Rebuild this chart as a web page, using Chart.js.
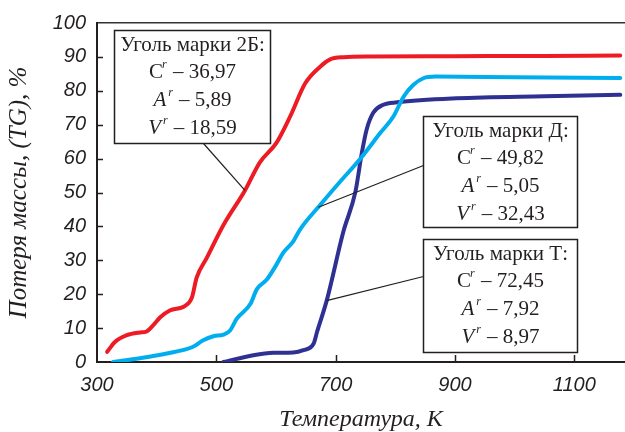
<!DOCTYPE html>
<html>
<head>
<meta charset="utf-8">
<script src="https://cdn.jsdelivr.net/npm/chart.js@4/dist/chart.umd.min.js"></script>
<style>
  body { margin: 0; background: #fff; }
  canvas { display: block; }
</style>
</head>
<body>
<canvas id="tg" width="625" height="432"></canvas>
<script>
const xTicks = [300, 500, 700, 900, 1100];
const yTicks = [0, 10, 20, 30, 40, 50, 60, 70, 80, 90, 100];

// уголь марки 2Б
const temp2B = [317, 330, 350, 372, 383, 394, 406, 422, 448, 459, 467, 484, 512, 548, 573, 601, 624, 649, 674, 690, 713, 760, 900, 1050, 1177];
const loss2B = [3.0, 5.9, 7.9, 8.7, 9.0, 10.8, 13.2, 15.2, 16.6, 19.0, 24.9, 30.7, 40.4, 50.6, 58.9, 64.7, 72.5, 82.2, 87.1, 89.2, 89.9, 90.1, 90.2, 90.3, 90.4];

// уголь марки Д
const tempD = [327, 372, 417, 461, 478, 495, 512, 523, 534, 557, 568, 585, 601, 612, 629, 640, 674, 707, 741, 775, 797, 814, 830, 847, 867, 1000, 1177];
const lossD = [0, 1.1, 2.5, 4.5, 6.4, 7.6, 8.1, 9.3, 12.7, 17.1, 21.5, 24.4, 28.8, 32.2, 35.6, 39.0, 46.3, 53.1, 59.9, 67.6, 72.5, 78.3, 81.7, 83.7, 84.2, 84.0, 83.8];

// уголь марки Т
const tempT = [512, 562, 596, 629, 646, 663, 669, 685, 713, 733, 744, 752, 763, 780, 803, 903, 1050, 1177];
const lossT = [0, 2.0, 2.7, 2.8, 3.5, 5.4, 9.0, 18.1, 38.5, 50.1, 61.8, 68.6, 73.5, 75.9, 76.6, 77.8, 78.4, 78.8];

// технический анализ: Cr, Ar, Vr
const coalNames = ['2Б', 'Д', 'Т'];
const coalC = [36.97, 49.82, 72.45];
const coalA = [5.89, 5.05, 7.92];
const coalV = [18.59, 32.43, 8.97];

const colors = ['#ed1c24', '#00aeef', '#2e3192'];
const ink = '#231f20';
const serif = '"Liberation Serif", "Times New Roman", serif';
const sans = '"Liberation Sans", Arial, sans-serif';

const toPoints = (xs, ys) => xs.map((x, i) => ({ x: x, y: ys[i] }));

// where each callout box sits (box corner in axis units, size in px)
const callouts = [
  { series: 0, at: 548, left: 328.5, top: 98, w: 156, h: 113, from: [89, 113] },
  { series: 1, at: 671, left: 846.7, top: 72.6, w: 154, h: 111, from: [0, 49] },
  { series: 2, at: 685, left: 846.7, top: 36.2, w: 154, h: 113, from: [0, 37] }
];

const interp = (xs, ys, x) => {
  for (let i = 1; i < xs.length; i++) {
    if (x <= xs[i]) {
      const t = (x - xs[i - 1]) / (xs[i] - xs[i - 1]);
      return ys[i - 1] + t * (ys[i] - ys[i - 1]);
    }
  }
  return ys[ys.length - 1];
};

const fmt = v => v.toFixed(2).replace('.', ',');

// inward tick marks on the left and bottom axes
const innerTicks = {
  id: 'innerTicks',
  afterDatasetsDraw(chart) {
    const { ctx, chartArea: a, scales: { x, y } } = chart;
    ctx.save();
    ctx.strokeStyle = ink;
    ctx.lineWidth = 1.5;
    ctx.beginPath();
    xTicks.slice(1).forEach(v => {
      const px = Math.round(x.getPixelForValue(v)) + 0.5;
      ctx.moveTo(px, a.bottom);
      ctx.lineTo(px, a.bottom - 7);
    });
    yTicks.slice(1, -1).forEach(v => {
      const py = Math.round(y.getPixelForValue(v)) + 0.5;
      ctx.moveTo(a.left, py);
      ctx.lineTo(a.left + 6, py);
    });
    ctx.stroke();
    ctx.restore();
  }
};

const series = [[temp2B, loss2B], [tempD, lossD], [tempT, lossT]];

// text line "X^r – value"; only the letter and index may be italic
function drawIndexLine(ctx, cx, base, letter, italic, value) {
  const main = (italic ? 'italic ' : '') + '21px ' + serif;
  const plain = '21px ' + serif;
  const sup = 'italic 12px ' + serif;
  const rest = ' – ' + fmt(value);
  const gap = italic ? 3 : 0;
  ctx.font = main;
  const wl = ctx.measureText(letter).width;
  ctx.font = plain;
  const wr = ctx.measureText(rest).width;
  ctx.font = sup;
  const ws = ctx.measureText('r').width + gap;
  const total = wl + ws + wr;
  let xx = cx - total / 2;
  ctx.font = main;
  ctx.fillText(letter, xx, base);
  xx += wl;
  ctx.font = sup;
  ctx.fillText('r', xx + gap - 1, base - 10);
  xx += ws;
  ctx.font = plain;
  ctx.fillText(rest, xx, base);
}

const calloutBoxes = {
  id: 'calloutBoxes',
  afterDatasetsDraw(chart) {
    const { ctx, scales: { x, y } } = chart;
    ctx.save();
    callouts.forEach(c => {
      const [xs, ys] = series[c.series];
      const bx = Math.round(x.getPixelForValue(c.left)) + 0.5;
      const by = Math.round(y.getPixelForValue(c.top)) + 0.5;
      const tx = x.getPixelForValue(c.at);
      const ty = y.getPixelForValue(interp(xs, ys, c.at));

      ctx.strokeStyle = ink;
      ctx.lineWidth = 1.2;
      ctx.beginPath();
      ctx.moveTo(bx + c.from[0], by + c.from[1]);
      ctx.lineTo(tx, ty);
      ctx.stroke();

      ctx.fillStyle = '#fff';
      ctx.fillRect(bx, by, c.w, c.h);
      ctx.lineWidth = 1.5;
      ctx.strokeRect(bx, by, c.w, c.h);

      const i = c.series;
      const cx = bx + c.w / 2;
      ctx.fillStyle = ink;
      ctx.textBaseline = 'alphabetic';
      ctx.textAlign = 'left';
      ctx.font = '21px ' + serif;
      const head = 'Уголь марки ' + coalNames[i] + ':';
      ctx.fillText(head, cx - ctx.measureText(head).width / 2, by + 20);
      drawIndexLine(ctx, cx, by + 47, 'C', false, coalC[i]);
      drawIndexLine(ctx, cx, by + 75, 'A', true, coalA[i]);
      drawIndexLine(ctx, cx, by + 103, 'V', true, coalV[i]);
    });
    ctx.restore();
  }
};

const line = (i) => ({
  data: toPoints(series[i][0], series[i][1]),
  borderColor: colors[i],
  borderWidth: 4,
  pointRadius: 0,
  fill: false,
  cubicInterpolationMode: 'monotone',
  borderCapStyle: 'round',
  borderJoinStyle: 'round'
});

new Chart(document.getElementById('tg'), {
  type: 'line',
  data: { datasets: [line(0), line(1), line(2)] },
  options: {
    responsive: false,
    animation: false,
    events: [],
    layout: { padding: 0 },
    plugins: { legend: { display: false }, tooltip: { enabled: false } },
    scales: {
      x: {
        type: 'linear',
        min: 300,
        max: 1185,
        afterBuildTicks: s => { s.ticks = xTicks.map(v => ({ value: v })); },
        afterFit: s => { s.height = 70; },
        grid: { display: false, drawTicks: false },
        border: { display: true, color: ink, width: 2 },
        ticks: {
          padding: 11,
          color: ink,
          maxRotation: 0,
          callback: v => String(v),
          font: { family: sans, size: 20, style: 'italic' }
        },
        title: {
          display: true,
          text: 'Температура, К',
          color: ink,
          padding: { top: 0, bottom: 0 },
          font: { family: serif, size: 24, style: 'italic', lineHeight: 1 }
        }
      },
      x2: {
        type: 'linear',
        position: 'top',
        min: 300,
        max: 1185,
        afterFit: s => { s.height = 19; },
        grid: { display: false, drawTicks: false },
        border: { display: true, color: '#333', width: 1.5 },
        ticks: { display: false }
      },
      y: {
        min: 0,
        max: 100,
        afterBuildTicks: s => { s.ticks = yTicks.map(v => ({ value: v })); },
        afterFit: s => { s.width = 97; },
        grid: { display: false, drawTicks: false },
        border: { display: true, color: ink, width: 2 },
        ticks: {
          padding: 11,
          color: ink,
          callback: v => String(v),
          font: { family: sans, size: 20, style: 'italic' }
        },
        title: {
          display: true,
          text: 'Потеря массы, (TG), %',
          color: ink,
          padding: { top: 7, bottom: 0 },
          font: { family: serif, size: 25, style: 'italic', lineHeight: 1 }
        }
      }
    }
  },
  plugins: [innerTicks, calloutBoxes]
});
</script>
</body>
</html>
